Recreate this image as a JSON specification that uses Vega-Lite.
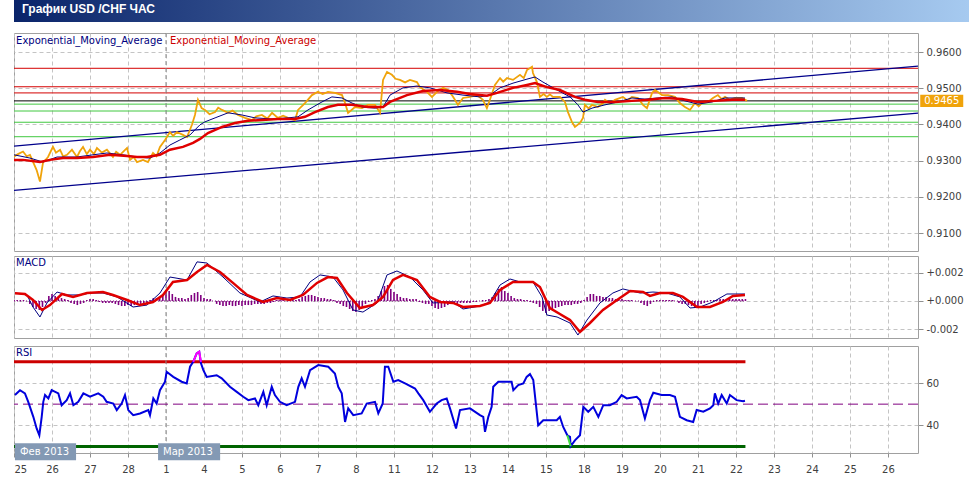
{
 "$schema": "https://vega.github.io/schema/vega-lite/v6.json",
 "background": "#ffffff",
 "padding": {"left": 13, "top": 0, "right": 0, "bottom": 0},
 "config": {
  "view": {"stroke": "#a0a0a0"},
  "axis": {"labelFont": "DejaVu Sans", "labelFontSize": 10, "labelColor": "#404040", "gridColor": "#c4c4c4", "gridDash": [4, 3], "gridWidth": 1, "domain": false, "tickColor": "#909090", "tickSize": 4, "labelOverlap": false},
  "text": {"font": "DejaVu Sans", "fontSize": 10}
 },
 "datasets": {
  "levels": [{"p": 0.9555, "k": "R"}, {"p": 0.9504, "k": "R"}, {"p": 0.9487, "k": "R"}, {"p": 0.9465, "k": "C"}, {"p": 0.9456, "k": "S"}, {"p": 0.9437, "k": "S"}, {"p": 0.9406, "k": "S"}, {"p": 0.9366, "k": "S"}],
  "channel": [{"s": "up", "h": 0, "p": 0.934}, {"s": "up", "h": 571, "p": 0.9561}, {"s": "lo", "h": 0, "p": 0.9218}, {"s": "lo", "h": 571, "p": 0.9431}],
  "last": [{"p": 0.9465}],
  "price": [{"h":0,"p":0.9311},{"h":2.5,"p":0.9318},{"h":5.7,"p":0.9325},{"h":8,"p":0.9312},{"h":10.1,"p":0.9316},{"h":14.3,"p":0.9274},{"h":16.4,"p":0.9242},{"h":18.3,"p":0.9294},{"h":21.5,"p":0.931},{"h":24.6,"p":0.9338},{"h":26.5,"p":0.9322},{"h":29.1,"p":0.933},{"h":31,"p":0.9312},{"h":33.5,"p":0.9316},{"h":36.6,"p":0.933},{"h":39.8,"p":0.931},{"h":41.5,"p":0.9325},{"h":43.6,"p":0.9338},{"h":46,"p":0.9318},{"h":48,"p":0.933},{"h":50.5,"p":0.9318},{"h":52.4,"p":0.9335},{"h":55.5,"p":0.9322},{"h":58.7,"p":0.933},{"h":62.5,"p":0.931},{"h":64.5,"p":0.9324},{"h":67,"p":0.9316},{"h":71.4,"p":0.9335},{"h":73.3,"p":0.9302},{"h":75.5,"p":0.931},{"h":77.7,"p":0.9296},{"h":81.5,"p":0.9302},{"h":84.6,"p":0.9296},{"h":87.8,"p":0.9321},{"h":90,"p":0.9312},{"h":92.2,"p":0.9338},{"h":95.4,"p":0.9357},{"h":98.5,"p":0.9379},{"h":100.5,"p":0.9368},{"h":102.9,"p":0.9379},{"h":106.7,"p":0.9371},{"h":109.3,"p":0.9365},{"h":112.4,"p":0.9399},{"h":114.3,"p":0.9426},{"h":116.2,"p":0.9468},{"h":118.5,"p":0.9445},{"h":120.6,"p":0.944},{"h":123.5,"p":0.9428},{"h":127,"p":0.9434},{"h":129,"p":0.9446},{"h":131.4,"p":0.944},{"h":135.2,"p":0.9432},{"h":138,"p":0.9438},{"h":141.5,"p":0.9426},{"h":145.9,"p":0.9418},{"h":150.3,"p":0.9412},{"h":153,"p":0.9422},{"h":156.6,"p":0.9426},{"h":160,"p":0.9416},{"h":163,"p":0.9432},{"h":166.7,"p":0.9418},{"h":170,"p":0.9424},{"h":173.1,"p":0.9418},{"h":177.5,"p":0.9412},{"h":179.4,"p":0.944},{"h":183.8,"p":0.9459},{"h":188.2,"p":0.9481},{"h":192,"p":0.949},{"h":195,"p":0.9484},{"h":198.3,"p":0.949},{"h":202.7,"p":0.9487},{"h":207.2,"p":0.9481},{"h":209.1,"p":0.9459},{"h":211,"p":0.9432},{"h":215.4,"p":0.9448},{"h":219.8,"p":0.9445},{"h":223.6,"p":0.9454},{"h":228,"p":0.9454},{"h":231.2,"p":0.9432},{"h":233.1,"p":0.9523},{"h":235.6,"p":0.9545},{"h":238.7,"p":0.9537},{"h":241,"p":0.9526},{"h":243.8,"p":0.9523},{"h":247,"p":0.9516},{"h":250.1,"p":0.9523},{"h":254.5,"p":0.9517},{"h":256.4,"p":0.9503},{"h":260.8,"p":0.949},{"h":264,"p":0.9476},{"h":267.2,"p":0.949},{"h":271,"p":0.9501},{"h":274.1,"p":0.9495},{"h":276.6,"p":0.9481},{"h":278.5,"p":0.9468},{"h":280.4,"p":0.9454},{"h":283.6,"p":0.9473},{"h":288,"p":0.9476},{"h":292.4,"p":0.9481},{"h":296.2,"p":0.9468},{"h":298.7,"p":0.9445},{"h":300.6,"p":0.9468},{"h":303.8,"p":0.9509},{"h":307,"p":0.9528},{"h":309,"p":0.9518},{"h":311.4,"p":0.9528},{"h":315.2,"p":0.9523},{"h":319.6,"p":0.9537},{"h":322,"p":0.9528},{"h":324,"p":0.955},{"h":327.2,"p":0.9559},{"h":327.8,"p":0.9542},{"h":330.3,"p":0.9517},{"h":332.2,"p":0.9476},{"h":334.5,"p":0.9484},{"h":336.6,"p":0.9476},{"h":338.5,"p":0.9483},{"h":340.4,"p":0.9476},{"h":344.8,"p":0.9476},{"h":348,"p":0.9462},{"h":349.9,"p":0.9434},{"h":352.4,"p":0.9407},{"h":354.3,"p":0.9393},{"h":357.5,"p":0.9404},{"h":359.4,"p":0.9418},{"h":360.6,"p":0.9454},{"h":363,"p":0.9444},{"h":365.1,"p":0.9454},{"h":368.8,"p":0.9448},{"h":372,"p":0.9459},{"h":373.3,"p":0.9468},{"h":376.5,"p":0.9458},{"h":379.6,"p":0.9468},{"h":384.6,"p":0.9476},{"h":387.5,"p":0.9466},{"h":390.3,"p":0.9476},{"h":394.1,"p":0.9473},{"h":397.3,"p":0.9454},{"h":399.8,"p":0.9445},{"h":403,"p":0.9487},{"h":404.9,"p":0.9495},{"h":409.3,"p":0.9481},{"h":413.1,"p":0.9481},{"h":417.5,"p":0.9476},{"h":420.6,"p":0.9459},{"h":423.8,"p":0.9448},{"h":427,"p":0.944},{"h":430.1,"p":0.9459},{"h":432.5,"p":0.945},{"h":434.5,"p":0.9459},{"h":438.3,"p":0.9462},{"h":441.5,"p":0.9473},{"h":444.6,"p":0.9481},{"h":447,"p":0.947},{"h":449.1,"p":0.9476},{"h":452,"p":0.9468},{"h":455.4,"p":0.9473},{"h":459.8,"p":0.9473},{"h":463,"p":0.9465}],
  "emaSlow": [{"h":0,"p":0.9302},{"h":5.7,"p":0.9302},{"h":16.4,"p":0.9296},{"h":22.7,"p":0.9302},{"h":30.9,"p":0.9307},{"h":39.8,"p":0.9307},{"h":49.9,"p":0.931},{"h":60.6,"p":0.9316},{"h":71.4,"p":0.9313},{"h":77.7,"p":0.931},{"h":84,"p":0.931},{"h":92.2,"p":0.9316},{"h":98.5,"p":0.933},{"h":106.7,"p":0.9338},{"h":113.1,"p":0.9349},{"h":117.5,"p":0.936},{"h":122.5,"p":0.9376},{"h":131.4,"p":0.9393},{"h":139.6,"p":0.9404},{"h":147.8,"p":0.941},{"h":156.6,"p":0.9412},{"h":166.7,"p":0.9415},{"h":177.5,"p":0.9415},{"h":183.8,"p":0.9421},{"h":190.1,"p":0.9434},{"h":198.3,"p":0.9448},{"h":204.6,"p":0.9454},{"h":213.5,"p":0.9454},{"h":223.6,"p":0.9448},{"h":233.1,"p":0.9448},{"h":237.5,"p":0.9462},{"h":248.2,"p":0.9481},{"h":258.3,"p":0.9492},{"h":269.1,"p":0.9495},{"h":279.8,"p":0.949},{"h":288,"p":0.9484},{"h":298.7,"p":0.9479},{"h":305.1,"p":0.9487},{"h":315.2,"p":0.9501},{"h":324,"p":0.9509},{"h":329.1,"p":0.9514},{"h":336.6,"p":0.9503},{"h":344.8,"p":0.9495},{"h":354.3,"p":0.9476},{"h":360.6,"p":0.9468},{"h":368.8,"p":0.9462},{"h":379.6,"p":0.9462},{"h":390.3,"p":0.9465},{"h":400.4,"p":0.9468},{"h":411.2,"p":0.9473},{"h":421.9,"p":0.947},{"h":432,"p":0.9462},{"h":442.8,"p":0.9465},{"h":453.6,"p":0.9468},{"h":461.7,"p":0.9468}],
  "emaFast": [{"h":0,"p":0.9316},{"h":10.1,"p":0.9307},{"h":18.3,"p":0.9296},{"h":27.2,"p":0.931},{"h":39.8,"p":0.931},{"h":49.9,"p":0.9316},{"h":58.7,"p":0.9321},{"h":68.8,"p":0.9316},{"h":77.7,"p":0.931},{"h":85.9,"p":0.9307},{"h":92.2,"p":0.9321},{"h":98.5,"p":0.9343},{"h":104.8,"p":0.9357},{"h":111.2,"p":0.9371},{"h":114.3,"p":0.9385},{"h":117.5,"p":0.9399},{"h":120.6,"p":0.9407},{"h":127,"p":0.9418},{"h":135.2,"p":0.9432},{"h":144,"p":0.9426},{"h":152.2,"p":0.9418},{"h":163,"p":0.9415},{"h":173.1,"p":0.9418},{"h":179.4,"p":0.9421},{"h":185.7,"p":0.944},{"h":194.5,"p":0.9462},{"h":200.8,"p":0.9476},{"h":207.2,"p":0.9473},{"h":213.5,"p":0.9459},{"h":219.8,"p":0.9448},{"h":228,"p":0.9445},{"h":233.1,"p":0.9448},{"h":237.5,"p":0.9481},{"h":245.7,"p":0.9501},{"h":254.5,"p":0.9506},{"h":262.7,"p":0.9501},{"h":273.5,"p":0.9487},{"h":283.6,"p":0.9481},{"h":294.3,"p":0.9476},{"h":300.6,"p":0.9481},{"h":307,"p":0.9501},{"h":315.2,"p":0.9514},{"h":324,"p":0.9525},{"h":329.1,"p":0.9531},{"h":334.1,"p":0.9517},{"h":343,"p":0.9495},{"h":351.2,"p":0.9476},{"h":356.2,"p":0.9454},{"h":359.4,"p":0.9434},{"h":365.1,"p":0.9445},{"h":373.3,"p":0.9454},{"h":381.5,"p":0.9462},{"h":390.3,"p":0.9473},{"h":398.5,"p":0.947},{"h":406.7,"p":0.9473},{"h":415.6,"p":0.9476},{"h":423.8,"p":0.9465},{"h":432,"p":0.9456},{"h":440.9,"p":0.9462},{"h":449.1,"p":0.9473},{"h":457.3,"p":0.9473},{"h":461.7,"p":0.9473}],
  "signal": [{"h":0.6,"v":0.00055},{"h":6.9,"v":0.0005},{"h":12,"v":0.00007},{"h":17.7,"v":-0.00064},{"h":22.7,"v":-0.00029},{"h":30.3,"v":0.0005},{"h":37.3,"v":0.00029},{"h":46.1,"v":0.00057},{"h":56.2,"v":0.00064},{"h":62.5,"v":0.00043},{"h":71.4,"v":0.00007},{"h":79.6,"v":-0.00029},{"h":87.8,"v":-0.00007},{"h":94.1,"v":0.00043},{"h":100.4,"v":0.00136},{"h":109.3,"v":0.0015},{"h":115.6,"v":0.00207},{"h":121.9,"v":0.00257},{"h":130.1,"v":0.00207},{"h":138.3,"v":0.00129},{"h":147.2,"v":0.00043},{"h":157.3,"v":-0.00007},{"h":166.1,"v":0.00021},{"h":174.3,"v":0.00007},{"h":182.5,"v":0.00043},{"h":191.4,"v":0.00129},{"h":198.3,"v":0.00171},{"h":204,"v":0.00164},{"h":210.3,"v":0.00057},{"h":218.5,"v":-0.0005},{"h":226.7,"v":-0.00029},{"h":233.1,"v":0.00029},{"h":239.4,"v":0.0015},{"h":245.7,"v":0.00186},{"h":254.5,"v":0.0015},{"h":262.7,"v":0.00029},{"h":269.1,"v":-0.00007},{"h":277.3,"v":-0.00014},{"h":283.6,"v":-0.00043},{"h":294.3,"v":-0.00036},{"h":300.6,"v":-0.00014},{"h":307,"v":0.00079},{"h":315.2,"v":0.00136},{"h":327.8,"v":0.00136},{"h":332.2,"v":0.001},{"h":338.5,"v":-0.0005},{"h":344.8,"v":-0.00093},{"h":351.2,"v":-0.00136},{"h":357.5,"v":-0.00221},{"h":363.8,"v":-0.00157},{"h":372,"v":-0.00064},{"h":380.9,"v":0.00007},{"h":389.1,"v":0.00071},{"h":397.3,"v":0.00064},{"h":401.7,"v":0.00036},{"h":408,"v":0.00057},{"h":416.2,"v":0.00057},{"h":422.5,"v":0.00029},{"h":431.4,"v":-0.00043},{"h":439.6,"v":-0.00043},{"h":447.8,"v":-0.00007},{"h":454.1,"v":0.00036},{"h":461.7,"v":0.00043}],
  "macd": [{"h":0.6,"v":0.00057},{"h":8.2,"v":0.00043},{"h":12,"v":-0.00043},{"h":16.4,"v":-0.00114},{"h":20.8,"v":-0.00014},{"h":27.2,"v":0.00064},{"h":33.5,"v":0.00043},{"h":41.7,"v":0.00043},{"h":48,"v":0.00057},{"h":56.2,"v":0.00057},{"h":65.1,"v":0.00029},{"h":75.2,"v":-0.00043},{"h":84,"v":-0.00029},{"h":92.2,"v":0.00057},{"h":98.5,"v":0.00171},{"h":109.3,"v":0.0015},{"h":115.6,"v":0.00279},{"h":121.9,"v":0.00271},{"h":132,"v":0.00171},{"h":142.7,"v":0.00057},{"h":155.4,"v":-0.00007},{"h":163.6,"v":0.00036},{"h":172.4,"v":0.00021},{"h":180.6,"v":0.00029},{"h":187,"v":0.00136},{"h":193.3,"v":0.00186},{"h":201.5,"v":0.00171},{"h":207.8,"v":0.00079},{"h":214.1,"v":-0.00064},{"h":220.4,"v":-0.00079},{"h":229.3,"v":-0.00014},{"h":235.6,"v":0.00186},{"h":241.9,"v":0.00214},{"h":250.1,"v":0.00171},{"h":258.3,"v":0.00079},{"h":264.6,"v":-0.00014},{"h":277.3,"v":-0.00007},{"h":283.6,"v":-0.00057},{"h":294.3,"v":-0.00036},{"h":300.6,"v":-0.00007},{"h":307,"v":0.00114},{"h":313.3,"v":0.00157},{"h":319.6,"v":0.00136},{"h":327.8,"v":0.00136},{"h":333.5,"v":0.00029},{"h":336.6,"v":-0.001},{"h":343,"v":-0.00114},{"h":351.2,"v":-0.00157},{"h":356.2,"v":-0.00243},{"h":361.9,"v":-0.00136},{"h":370.1,"v":-0.00014},{"h":378.3,"v":0.00057},{"h":384.6,"v":0.00086},{"h":395.4,"v":0.00057},{"h":403.6,"v":0.00064},{"h":412.4,"v":0.00057},{"h":420.6,"v":0.00029},{"h":427,"v":-0.0005},{"h":433.3,"v":-0.00043},{"h":441.5,"v":-0.00007},{"h":450.3,"v":0.0005},{"h":456.6,"v":0.0005},{"h":461.7,"v":0.0005}],
  "hist": [{"h":0,"v":0.00007},{"h":2,"v":0.00007},{"h":4,"v":0.00007},{"h":6,"v":0.00007},{"h":8,"v":0},{"h":10,"v":-0.00021},{"h":12,"v":-0.00043},{"h":14,"v":-0.00057},{"h":16,"v":-0.00064},{"h":18,"v":-0.00043},{"h":20,"v":-0.00014},{"h":22,"v":0.00036},{"h":24,"v":0.0005},{"h":26,"v":0.00036},{"h":28,"v":0.00021},{"h":30,"v":0.00021},{"h":32,"v":0.00014},{"h":34,"v":0.00007},{"h":36,"v":-0.00014},{"h":38,"v":-0.00021},{"h":40,"v":-0.00029},{"h":42,"v":-0.00021},{"h":44,"v":-0.00014},{"h":46,"v":0.00007},{"h":48,"v":0.00014},{"h":50,"v":0.00014},{"h":52,"v":0.00007},{"h":54,"v":-0.00007},{"h":56,"v":-0.00014},{"h":58,"v":-0.00014},{"h":60,"v":-0.00014},{"h":62,"v":-0.00014},{"h":64,"v":-0.00021},{"h":66,"v":-0.00029},{"h":68,"v":-0.00036},{"h":70,"v":-0.00036},{"h":72,"v":-0.00029},{"h":74,"v":-0.00036},{"h":76,"v":-0.00029},{"h":78,"v":-0.00029},{"h":80,"v":-0.00021},{"h":82,"v":-0.00021},{"h":84,"v":-0.00014},{"h":86,"v":0.00007},{"h":88,"v":0.00021},{"h":90,"v":0.00021},{"h":92,"v":0.00029},{"h":94,"v":0.00043},{"h":96,"v":0.00064},{"h":98,"v":0.00071},{"h":100,"v":0.0005},{"h":102,"v":0.00029},{"h":104,"v":0.00021},{"h":106,"v":0.00021},{"h":108,"v":0.00014},{"h":110,"v":0.00021},{"h":112,"v":0.00043},{"h":114,"v":0.00057},{"h":116,"v":0.00064},{"h":118,"v":0.00043},{"h":120,"v":0.00021},{"h":122,"v":0.00014},{"h":124,"v":0.00014},{"h":126,"v":0},{"h":128,"v":-0.00021},{"h":130,"v":-0.00029},{"h":132,"v":-0.00036},{"h":134,"v":-0.00036},{"h":136,"v":-0.00029},{"h":138,"v":-0.00036},{"h":140,"v":-0.00036},{"h":142,"v":-0.00029},{"h":144,"v":-0.00036},{"h":146,"v":-0.00029},{"h":148,"v":-0.00029},{"h":150,"v":-0.00029},{"h":152,"v":-0.00021},{"h":154,"v":-0.00021},{"h":156,"v":-0.00021},{"h":158,"v":-0.00021},{"h":160,"v":-0.00014},{"h":162,"v":-0.00014},{"h":164,"v":-0.00007},{"h":166,"v":0.00007},{"h":168,"v":0.00007},{"h":170,"v":0.00007},{"h":172,"v":0},{"h":174,"v":0.00007},{"h":176,"v":0.00007},{"h":178,"v":0.00007},{"h":180,"v":0.00014},{"h":182,"v":0.00029},{"h":184,"v":0.00036},{"h":186,"v":0.00043},{"h":188,"v":0.00043},{"h":190,"v":0.00036},{"h":192,"v":0.00029},{"h":194,"v":0.00021},{"h":196,"v":0.00021},{"h":198,"v":0.00014},{"h":200,"v":0.00014},{"h":202,"v":0.00007},{"h":204,"v":-0.00014},{"h":206,"v":-0.00021},{"h":208,"v":-0.00036},{"h":210,"v":-0.00043},{"h":212,"v":-0.00057},{"h":214,"v":-0.00071},{"h":216,"v":-0.00079},{"h":218,"v":-0.00064},{"h":220,"v":-0.00043},{"h":222,"v":-0.00021},{"h":224,"v":-0.00007},{"h":226,"v":0.00007},{"h":228,"v":0.00014},{"h":230,"v":0.00036},{"h":232,"v":0.00071},{"h":234,"v":0.00107},{"h":236,"v":0.00114},{"h":238,"v":0.00086},{"h":240,"v":0.00064},{"h":242,"v":0.0005},{"h":244,"v":0.00029},{"h":246,"v":0.00021},{"h":248,"v":0.00021},{"h":250,"v":0.00014},{"h":252,"v":0.00014},{"h":254,"v":0.00014},{"h":256,"v":-0.00007},{"h":258,"v":-0.00014},{"h":260,"v":-0.00021},{"h":262,"v":-0.00021},{"h":264,"v":-0.00036},{"h":266,"v":-0.0005},{"h":268,"v":-0.00057},{"h":270,"v":-0.0005},{"h":272,"v":-0.00043},{"h":274,"v":-0.00029},{"h":276,"v":-0.00021},{"h":278,"v":-0.00021},{"h":280,"v":-0.00021},{"h":282,"v":-0.00014},{"h":284,"v":-0.00014},{"h":286,"v":-0.00014},{"h":288,"v":-0.00014},{"h":290,"v":-0.00007},{"h":292,"v":-0.00007},{"h":294,"v":0},{"h":296,"v":0.00007},{"h":298,"v":0.00007},{"h":300,"v":0.00014},{"h":302,"v":0.00029},{"h":304,"v":0.00057},{"h":306,"v":0.00086},{"h":308,"v":0.001},{"h":310,"v":0.00071},{"h":312,"v":0.00057},{"h":314,"v":0.00036},{"h":316,"v":0.00021},{"h":318,"v":0.00014},{"h":320,"v":0.00014},{"h":322,"v":0.00007},{"h":324,"v":0.00007},{"h":326,"v":-0.00007},{"h":328,"v":-0.00014},{"h":330,"v":-0.00021},{"h":332,"v":-0.00043},{"h":334,"v":-0.00071},{"h":336,"v":-0.00086},{"h":338,"v":-0.00071},{"h":340,"v":-0.00057},{"h":342,"v":-0.0005},{"h":344,"v":-0.00043},{"h":346,"v":-0.00036},{"h":348,"v":-0.00029},{"h":350,"v":-0.00029},{"h":352,"v":-0.00029},{"h":354,"v":-0.00021},{"h":356,"v":-0.00021},{"h":358,"v":-0.00014},{"h":360,"v":0.00007},{"h":362,"v":0.00029},{"h":364,"v":0.0005},{"h":366,"v":0.0005},{"h":368,"v":0.00036},{"h":370,"v":0.00036},{"h":372,"v":0.00029},{"h":374,"v":0.00029},{"h":376,"v":0.00021},{"h":378,"v":0.00021},{"h":380,"v":0.00014},{"h":382,"v":0.00014},{"h":384,"v":0.00014},{"h":386,"v":0.00007},{"h":388,"v":0.00007},{"h":390,"v":0.00007},{"h":392,"v":0},{"h":394,"v":0},{"h":396,"v":-0.00014},{"h":398,"v":-0.00029},{"h":400,"v":-0.00036},{"h":402,"v":-0.00021},{"h":404,"v":-0.00007},{"h":406,"v":0.00007},{"h":408,"v":0.00007},{"h":410,"v":0.00007},{"h":412,"v":0.00007},{"h":414,"v":0.00007},{"h":416,"v":0.00007},{"h":418,"v":0},{"h":420,"v":-0.00014},{"h":422,"v":-0.00021},{"h":424,"v":-0.00021},{"h":426,"v":-0.00029},{"h":428,"v":-0.00036},{"h":430,"v":-0.00043},{"h":432,"v":-0.00036},{"h":434,"v":-0.00021},{"h":436,"v":-0.00014},{"h":438,"v":-0.00007},{"h":440,"v":0.00007},{"h":442,"v":0.00007},{"h":444,"v":0.00007},{"h":446,"v":0.00014},{"h":448,"v":0.00014},{"h":450,"v":0.00014},{"h":452,"v":0.00014},{"h":454,"v":0.00014},{"h":456,"v":0.00014},{"h":458,"v":0.00014},{"h":460,"v":0.00014},{"h":462,"v":0.00014}],
  "rsi": [{"h":0.6,"r":54.3},{"h":3.8,"r":56.6},{"h":6.9,"r":55.1},{"h":9,"r":51.1},{"h":12.2,"r":44},{"h":14.3,"r":38.5},{"h":16,"r":35.3},{"h":17.5,"r":44},{"h":18.5,"r":51.1},{"h":19.6,"r":54.3},{"h":21.7,"r":52.7},{"h":23.8,"r":56.6},{"h":28,"r":55.1},{"h":30.1,"r":49.5},{"h":33.3,"r":51.9},{"h":35.4,"r":55.1},{"h":37.5,"r":49.5},{"h":40.6,"r":51.1},{"h":43.8,"r":55.1},{"h":48,"r":53.5},{"h":53.2,"r":55.1},{"h":56.4,"r":53.5},{"h":58.5,"r":51.1},{"h":62.7,"r":50.3},{"h":64.9,"r":47.2},{"h":68,"r":50.3},{"h":70.1,"r":54.3},{"h":72.2,"r":47.2},{"h":75.3,"r":44.8},{"h":79.6,"r":45.6},{"h":84.8,"r":47.2},{"h":85.9,"r":44.8},{"h":88,"r":52.7},{"h":90.1,"r":50.3},{"h":92.2,"r":56.6},{"h":95.4,"r":60.6},{"h":96.4,"r":65.3},{"h":100.6,"r":62.9},{"h":105.9,"r":60.6},{"h":109.1,"r":59.8},{"h":111.2,"r":67.7},{"h":113.2,"r":70},{"h":115.4,"r":74},{"h":117,"r":74.8},{"h":118.1,"r":69.3},{"h":119.6,"r":66.1},{"h":121.7,"r":62.9},{"h":128,"r":63.7},{"h":131.2,"r":62.2},{"h":136.4,"r":58.2},{"h":140.7,"r":55.8},{"h":144.8,"r":53.5},{"h":148,"r":51.9},{"h":152.2,"r":52.7},{"h":154.3,"r":49.5},{"h":157.5,"r":55.8},{"h":159.6,"r":49.5},{"h":162.8,"r":58.2},{"h":164.8,"r":54.3},{"h":168,"r":51.1},{"h":172.2,"r":49.5},{"h":177.5,"r":51.1},{"h":179.6,"r":58.2},{"h":181.7,"r":62.2},{"h":183.8,"r":58.2},{"h":187,"r":66.1},{"h":192.2,"r":68.5},{"h":198.5,"r":67.7},{"h":202.7,"r":64.5},{"h":204.8,"r":58.2},{"h":207,"r":55.1},{"h":209.1,"r":41.6},{"h":211.1,"r":48},{"h":214.3,"r":44.8},{"h":219.6,"r":45.6},{"h":222.8,"r":50.3},{"h":228,"r":51.1},{"h":230.1,"r":45.6},{"h":232.9,"r":50.3},{"h":234.3,"r":67.7},{"h":236.4,"r":67.7},{"h":239.6,"r":60.6},{"h":242.7,"r":61.4},{"h":247,"r":59.8},{"h":253.3,"r":57.4},{"h":255.4,"r":55.1},{"h":258.5,"r":51.9},{"h":262.7,"r":46.4},{"h":267,"r":50.3},{"h":270.1,"r":51.9},{"h":273.3,"r":52.7},{"h":275.4,"r":48},{"h":279.2,"r":38.5},{"h":281.7,"r":47.2},{"h":288,"r":48},{"h":294.3,"r":44.8},{"h":296.4,"r":44},{"h":297.5,"r":36.9},{"h":299.6,"r":44},{"h":301.7,"r":48.7},{"h":302.7,"r":58.2},{"h":305.9,"r":60.6},{"h":310.1,"r":60.6},{"h":314.3,"r":60.6},{"h":315.4,"r":56.6},{"h":318.5,"r":59},{"h":321.7,"r":59.8},{"h":323.8,"r":62.9},{"h":325.9,"r":64.2},{"h":328,"r":61.4},{"h":331.1,"r":40},{"h":334.3,"r":42.4},{"h":338.5,"r":42.4},{"h":342.8,"r":42.4},{"h":344.8,"r":44},{"h":346.9,"r":39.2},{"h":349.5,"r":35.3},{"h":351.2,"r":34.5},{"h":351.6,"r":30.1},{"h":354.3,"r":32.9},{"h":357.5,"r":35.3},{"h":359.6,"r":48.7},{"h":362.7,"r":46.4},{"h":365.9,"r":48.7},{"h":369.1,"r":44},{"h":372.2,"r":49.5},{"h":376.4,"r":49.5},{"h":380.7,"r":51.1},{"h":383.8,"r":54.3},{"h":387,"r":52.7},{"h":393.3,"r":53.5},{"h":395.4,"r":51.9},{"h":398.5,"r":43.2},{"h":401.7,"r":51.9},{"h":403.8,"r":55.4},{"h":409.1,"r":54.3},{"h":414.3,"r":54.3},{"h":417.5,"r":53.5},{"h":420.6,"r":44},{"h":424.9,"r":42.4},{"h":429,"r":41.6},{"h":431.2,"r":47.2},{"h":435.4,"r":46.4},{"h":439.6,"r":48},{"h":441.7,"r":49.5},{"h":442.7,"r":55.1},{"h":444.8,"r":50.3},{"h":447,"r":54.3},{"h":450.2,"r":50.3},{"h":452.2,"r":54.3},{"h":456.4,"r":51.9},{"h":460.6,"r":51.4},{"h":461.7,"r":51.6}],
  "rsiHi": [{"h":113.2,"r":70},{"h":115.4,"r":74},{"h":117,"r":74.8},{"h":118.1,"r":70}],
  "rsiLo": [{"h":349.5,"r":35.3},{"h":351.6,"r":30.1}],
  "months": [{"m": "Фев 2013", "h": 0.6, "h2": 39.2}, {"m": "Мар 2013", "h": 91, "h2": 130.2}]
 },
 "spacing": 10,
 "vconcat": [
  {
   "width": 955, "height": 22,
   "data": {"values": []},
   "mark": "point",
   "view": {"stroke": null, "fill": {"gradient": "linear", "x1": 0, "y1": 0, "x2": 1, "y2": 0, "stops": [{"offset": 0, "color": "#0a246a"}, {"offset": 1, "color": "#a6caf0"}]}},
   "title": {"text": "График USD /CHF ЧАС", "color": "#ffffff", "font": "Liberation Sans", "fontSize": 12, "fontWeight": "bold", "anchor": "start", "frame": "group", "dx": 8, "offset": -16}
  },
  {
   "spacing": 3,
   "vconcat": [
    {
     "width": 904, "height": 218,
     "layer": [
      {"data": {"name": "levels"}, "mark": {"type": "rule", "strokeWidth": 1, "clip": true},
       "encoding": {
        "x": {"datum": 0, "type": "quantitative", "scale": {"domain": [0, 571], "nice": false, "zero": false}, "axis": {"values": [0,24,48,72,96,120,144,168,192,216,240,264,288,312,336,360,384,408,432,456,480,504,528,552], "tickCount": 40, "labels": false, "ticks": false, "grid": true, "title": null}},
        "x2": {"datum": 571},
        "y": {"field": "p", "type": "quantitative", "scale": {"domain": [0.90503, 0.96525], "nice": false, "zero": false}, "axis": {"orient": "right", "values": [0.91, 0.92, 0.93, 0.94, 0.95, 0.96], "tickCount": 10, "format": ".4f", "grid": true, "title": null, "tickSize": 5, "labelPadding": 3}},
        "color": {"field": "k", "type": "nominal", "scale": {"domain": ["R", "C", "S"], "range": ["#d40000", "#000000", "#40c840"]}, "legend": null}
       }},
      {"data": {"values": [{}]}, "mark": {"type": "rule", "color": "#8c8c8c", "strokeDash": [4, 3], "clip": true},
       "encoding": {"x": {"datum": 96, "type": "quantitative", "scale": {"domain": [0, 571], "nice": false, "zero": false}}}},
      {"data": {"name": "channel"}, "mark": {"type": "line", "color": "#00008b", "strokeWidth": 1.3, "clip": true},
       "encoding": {
        "x": {"field": "h", "type": "quantitative", "scale": {"domain": [0, 571], "nice": false, "zero": false}},
        "y": {"field": "p", "type": "quantitative", "scale": {"domain": [0.90503, 0.96525], "nice": false, "zero": false}},
        "detail": {"field": "s"}
       }},
      {"data": {"name": "price"}, "mark": {"type": "line", "color": "#f0a30a", "strokeWidth": 1.8, "clip": true},
       "encoding": {
        "x": {"field": "h", "type": "quantitative", "scale": {"domain": [0, 571], "nice": false, "zero": false}},
        "y": {"field": "p", "type": "quantitative", "scale": {"domain": [0.90503, 0.96525], "nice": false, "zero": false}}
       }},
      {"data": {"name": "emaFast"}, "mark": {"type": "line", "color": "#000080", "strokeWidth": 1, "clip": true},
       "encoding": {
        "x": {"field": "h", "type": "quantitative", "scale": {"domain": [0, 571], "nice": false, "zero": false}},
        "y": {"field": "p", "type": "quantitative", "scale": {"domain": [0.90503, 0.96525], "nice": false, "zero": false}}
       }},
      {"data": {"name": "emaSlow"}, "mark": {"type": "line", "color": "#e00000", "strokeWidth": 2.5, "clip": true},
       "encoding": {
        "x": {"field": "h", "type": "quantitative", "scale": {"domain": [0, 571], "nice": false, "zero": false}},
        "y": {"field": "p", "type": "quantitative", "scale": {"domain": [0.90503, 0.96525], "nice": false, "zero": false}}
       }},
      {"data": {"values": [{"t": "Exponential_Moving_Average"}]}, "mark": {"type": "text", "color": "#000080", "align": "left", "baseline": "middle"},
       "encoding": {
        "x": {"datum": 1.3, "type": "quantitative", "scale": {"domain": [0, 571], "nice": false, "zero": false}},
        "y": {"datum": 0.96312, "type": "quantitative", "scale": {"domain": [0.90503, 0.96525], "nice": false, "zero": false}},
        "text": {"field": "t"}
       }},
      {"data": {"values": [{"t": "Exponential_Moving_Average"}]}, "mark": {"type": "text", "color": "#cc0000", "align": "left", "baseline": "middle"},
       "encoding": {
        "x": {"datum": 98.5, "type": "quantitative", "scale": {"domain": [0, 571], "nice": false, "zero": false}},
        "y": {"datum": 0.96312, "type": "quantitative", "scale": {"domain": [0.90503, 0.96525], "nice": false, "zero": false}},
        "text": {"field": "t"}
       }},
      {"data": {"name": "last"}, "mark": {"type": "point", "shape": "M-1,-0.28H1V0.28H-1Z", "filled": true, "color": "#f0a30a", "opacity": 1, "size": 1849},
       "encoding": {
        "x": {"datum": 586, "type": "quantitative", "scale": {"domain": [0, 571], "nice": false, "zero": false}},
        "y": {"field": "p", "type": "quantitative", "scale": {"domain": [0.90503, 0.96525], "nice": false, "zero": false}}
       }},
      {"data": {"name": "last"}, "mark": {"type": "text", "color": "#ffffff", "align": "center", "baseline": "middle"},
       "encoding": {
        "x": {"datum": 586, "type": "quantitative", "scale": {"domain": [0, 571], "nice": false, "zero": false}},
        "y": {"field": "p", "type": "quantitative", "scale": {"domain": [0.90503, 0.96525], "nice": false, "zero": false}},
        "text": {"field": "p", "format": ".4f"}
       }}
     ]
    },
    {
     "spacing": 6,
     "vconcat": [
      {
       "width": 904, "height": 82,
       "layer": [
        {"data": {"name": "hist"}, "mark": {"type": "rule", "color": "#800080", "strokeWidth": 1.6, "clip": true},
         "encoding": {
          "x": {"field": "h", "type": "quantitative", "scale": {"domain": [0, 571], "nice": false, "zero": false}, "axis": {"values": [0,24,48,72,96,120,144,168,192,216,240,264,288,312,336,360,384,408,432,456,480,504,528,552], "tickCount": 40, "labels": false, "ticks": false, "grid": true, "title": null}},
          "y": {"field": "v", "type": "quantitative", "scale": {"domain": [-0.00264, 0.00321], "nice": false, "zero": false}, "axis": {"orient": "right", "values": [-0.002, 0, 0.002], "tickCount": 10, "labelExpr": "(datum.value < 0 ? '-' : '+') + format(abs(datum.value), '.3f')", "grid": true, "title": null, "tickSize": 5, "labelPadding": 3}},
          "y2": {"datum": 0}
         }},
        {"data": {"values": [{}]}, "mark": {"type": "rule", "color": "#8c8c8c", "strokeDash": [4, 3], "clip": true},
         "encoding": {"x": {"datum": 96, "type": "quantitative", "scale": {"domain": [0, 571], "nice": false, "zero": false}}}},
        {"data": {"values": [{}]}, "mark": {"type": "rule", "color": "#800080", "strokeDash": [1, 2], "clip": true},
         "encoding": {
          "x": {"datum": 0, "type": "quantitative", "scale": {"domain": [0, 571], "nice": false, "zero": false}},
          "x2": {"datum": 462},
          "y": {"datum": 0, "type": "quantitative", "scale": {"domain": [-0.00264, 0.00321], "nice": false, "zero": false}}
         }},
        {"data": {"name": "macd"}, "mark": {"type": "line", "color": "#000080", "strokeWidth": 1, "clip": true},
         "encoding": {
          "x": {"field": "h", "type": "quantitative", "scale": {"domain": [0, 571], "nice": false, "zero": false}},
          "y": {"field": "v", "type": "quantitative", "scale": {"domain": [-0.00264, 0.00321], "nice": false, "zero": false}}
         }},
        {"data": {"name": "signal"}, "mark": {"type": "line", "color": "#e00000", "strokeWidth": 2.5, "clip": true},
         "encoding": {
          "x": {"field": "h", "type": "quantitative", "scale": {"domain": [0, 571], "nice": false, "zero": false}},
          "y": {"field": "v", "type": "quantitative", "scale": {"domain": [-0.00264, 0.00321], "nice": false, "zero": false}}
         }},
        {"data": {"values": [{"t": "MACD"}]}, "mark": {"type": "text", "color": "#000080", "align": "left", "baseline": "middle"},
         "encoding": {
          "x": {"datum": 1.3, "type": "quantitative", "scale": {"domain": [0, 571], "nice": false, "zero": false}},
          "y": {"datum": 0.00271, "type": "quantitative", "scale": {"domain": [-0.00264, 0.00321], "nice": false, "zero": false}},
          "text": {"field": "t"}
         }}
       ]
      },
      {
       "width": 904, "height": 107,
       "layer": [
        {"data": {"name": "rsi"}, "mark": {"type": "line", "color": "#0000dd", "strokeWidth": 2, "opacity": 0, "clip": true},
         "encoding": {
          "x": {"field": "h", "type": "quantitative", "scale": {"domain": [0, 571], "nice": false, "zero": false}, "axis": {"values": [0,24,48,72,96,120,144,168,192,216,240,264,288,312,336,360,384,408,432,456,480,504,528,552], "tickCount": 40, "labelExpr": "['25','26','27','28','1','4','5','6','7','8','11','12','13','14','15','18','19','20','21','22','23','24','25','26'][round(datum.value/24)]", "labelOverlap": false, "grid": true, "ticks": true, "tickSize": 4, "labelPadding": 7, "title": null}},
          "y": {"field": "r", "type": "quantitative", "scale": {"domain": [26.9, 77.5], "nice": false, "zero": false}, "axis": {"orient": "right", "values": [40, 60], "tickCount": 10, "grid": true, "title": null, "tickSize": 5, "labelPadding": 3}}
         }},
        {"data": {"values": [{}]}, "mark": {"type": "rule", "color": "#cc0000", "strokeWidth": 3, "clip": true},
         "encoding": {
          "x": {"datum": 0, "type": "quantitative", "scale": {"domain": [0, 571], "nice": false, "zero": false}},
          "x2": {"datum": 462},
          "y": {"datum": 70, "type": "quantitative", "scale": {"domain": [26.9, 77.5], "nice": false, "zero": false}}
         }},
        {"data": {"values": [{}]}, "mark": {"type": "rule", "color": "#006400", "strokeWidth": 3, "clip": true},
         "encoding": {
          "x": {"datum": 0, "type": "quantitative", "scale": {"domain": [0, 571], "nice": false, "zero": false}},
          "x2": {"datum": 462},
          "y": {"datum": 30, "type": "quantitative", "scale": {"domain": [26.9, 77.5], "nice": false, "zero": false}}
         }},
        {"data": {"values": [{}]}, "mark": {"type": "rule", "color": "#8c8c8c", "strokeDash": [4, 3], "clip": true},
         "encoding": {"x": {"datum": 96, "type": "quantitative", "scale": {"domain": [0, 571], "nice": false, "zero": false}}}},
        {"data": {"values": [{}]}, "mark": {"type": "rule", "color": "#800080", "strokeDash": [10, 5], "strokeWidth": 1, "clip": true},
         "encoding": {
          "y": {"datum": 50, "type": "quantitative", "scale": {"domain": [26.9, 77.5], "nice": false, "zero": false}}
         }},
        {"data": {"name": "rsi"}, "mark": {"type": "line", "color": "#0000dd", "strokeWidth": 2, "clip": true},
         "encoding": {
          "x": {"field": "h", "type": "quantitative", "scale": {"domain": [0, 571], "nice": false, "zero": false}},
          "y": {"field": "r", "type": "quantitative", "scale": {"domain": [26.9, 77.5], "nice": false, "zero": false}}
         }},
        {"data": {"name": "rsiHi"}, "mark": {"type": "line", "color": "#ff00ff", "strokeWidth": 2, "clip": true},
         "encoding": {
          "x": {"field": "h", "type": "quantitative", "scale": {"domain": [0, 571], "nice": false, "zero": false}},
          "y": {"field": "r", "type": "quantitative", "scale": {"domain": [26.9, 77.5], "nice": false, "zero": false}}
         }},
        {"data": {"name": "rsiLo"}, "mark": {"type": "line", "color": "#40e040", "strokeWidth": 2, "clip": true},
         "encoding": {
          "x": {"field": "h", "type": "quantitative", "scale": {"domain": [0, 571], "nice": false, "zero": false}},
          "y": {"field": "r", "type": "quantitative", "scale": {"domain": [26.9, 77.5], "nice": false, "zero": false}}
         }},
        {"data": {"name": "months"}, "mark": {"type": "rect", "color": "#8399b4", "clip": false},
         "encoding": {
          "x": {"field": "h", "type": "quantitative", "scale": {"domain": [0, 571], "nice": false, "zero": false}},
          "x2": {"field": "h2"},
          "y": {"datum": 31.5, "type": "quantitative", "scale": {"domain": [26.9, 77.5], "nice": false, "zero": false}},
          "y2": {"datum": 23.5}
         }},
        {"data": {"name": "months"}, "mark": {"type": "text", "color": "#ffffff", "align": "left", "baseline": "middle", "dx": 5},
         "encoding": {
          "x": {"field": "h", "type": "quantitative", "scale": {"domain": [0, 571], "nice": false, "zero": false}},
          "y": {"datum": 27.5, "type": "quantitative", "scale": {"domain": [26.9, 77.5], "nice": false, "zero": false}},
          "text": {"field": "m"}
         }},
        {"data": {"values": [{"t": "RSI"}]}, "mark": {"type": "text", "color": "#000080", "align": "left", "baseline": "middle"},
         "encoding": {
          "x": {"datum": 1.3, "type": "quantitative", "scale": {"domain": [0, 571], "nice": false, "zero": false}},
          "y": {"datum": 74.2, "type": "quantitative", "scale": {"domain": [26.9, 77.5], "nice": false, "zero": false}},
          "text": {"field": "t"}
         }}
       ]
      }
     ]
    }
   ]
  }
 ]
}
